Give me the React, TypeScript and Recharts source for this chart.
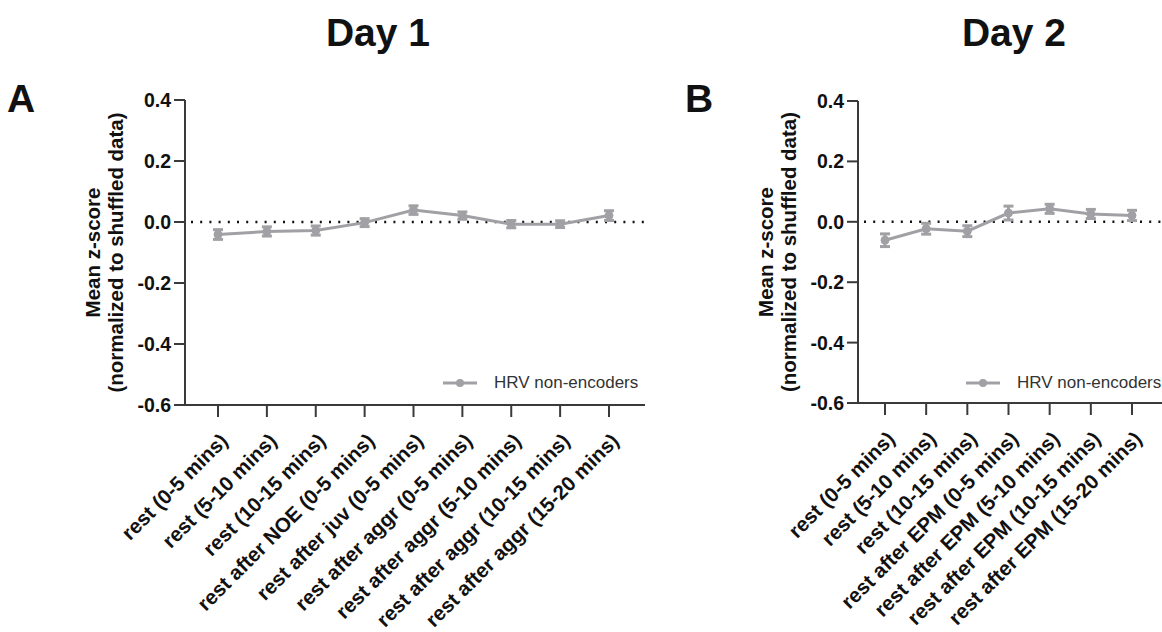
import React from "react"
import { LineChart, Line, XAxis, YAxis, ErrorBar, ReferenceLine } from "recharts"

const FONT = '"Liberation Sans", Arial, Helvetica, sans-serif'
const GRAY = "#a1a1a5"

const day1Labels = [
  "rest (0-5 mins)",
  "rest (5-10 mins)",
  "rest (10-15 mins)",
  "rest after NOE (0-5 mins)",
  "rest after juv (0-5 mins)",
  "rest after aggr (0-5 mins)",
  "rest after aggr (5-10 mins)",
  "rest after aggr (10-15 mins)",
  "rest after aggr (15-20 mins)",
]
const day1Mean = [-0.041, -0.031, -0.028, -0.002, 0.039, 0.021, -0.007, -0.007, 0.021]
const day1Sem = [0.016, 0.015, 0.015, 0.013, 0.014, 0.012, 0.012, 0.011, 0.016]

const day2Labels = [
  "rest (0-5 mins)",
  "rest (5-10 mins)",
  "rest (10-15 mins)",
  "rest after EPM (0-5 mins)",
  "rest after EPM (5-10 mins)",
  "rest after EPM (10-15 mins)",
  "rest after EPM (15-20 mins)",
]
const day2Mean = [-0.061, -0.023, -0.031, 0.029, 0.043, 0.026, 0.021]
const day2Sem = [0.021, 0.018, 0.018, 0.023, 0.015, 0.015, 0.017]

const yTicks = [-0.6, -0.4, -0.2, 0, 0.2, 0.4]
const seriesName = "HRV non-encoders"

const XTick = (props: any) => {
  const { x, y, payload } = props
  return (
    <g transform={`translate(${x + 6},${y + 18}) rotate(-45)`}>
      <text x={0} y={0} dy="0.35em" textAnchor="end" fontSize={20.5} fontWeight="bold" fill="#111" fontFamily={FONT}>
        {payload.value}
      </text>
    </g>
  )
}

const YLabel = (props: any) => {
  const vb = props.viewBox || {}
  const ax = vb.x + vb.width
  const cy = vb.y + vb.height / 2
  const style = { fontSize: 20.5, fontWeight: "bold" as const, fill: "#111", fontFamily: FONT }
  return (
    <g>
      <text transform={`translate(${ax - 93},${cy}) rotate(-90)`} textAnchor="middle" dominantBaseline="central" {...style}>
        Mean z-score
      </text>
      <text transform={`translate(${ax - 70},${cy}) rotate(-90)`} textAnchor="middle" dominantBaseline="central" {...style}>
        (normalized to shuffled data)
      </text>
    </g>
  )
}

const LegendBox = ({ left }: { left: number }) => (
  <div
    style={{
      position: "absolute",
      left,
      top: 373,
      display: "flex",
      alignItems: "center",
      fontFamily: FONT,
      fontSize: 17,
      lineHeight: "20px",
      color: "#333",
      whiteSpace: "nowrap",
    }}
  >
    <svg width={34} height={10} style={{ marginRight: 17 }}>
      <line x1={0} y1={5} x2={34} y2={5} stroke={GRAY} strokeWidth={3} />
      <circle cx={17} cy={5} r={4} fill={GRAY} />
    </svg>
    <span>{seriesName}</span>
  </div>
)

type PanelProps = {
  labels: string[]
  mean: number[]
  sem: number[]
  left: number
  width: number
  margin: { top: number; right: number; bottom: number; left: number }
  pad: { left: number; right: number }
  xAxisHeight: number
}

function Panel({ labels, mean, sem, left, width, margin, pad, xAxisHeight }: PanelProps) {
  const data = labels.map((label, i) => ({ label, mean: mean[i], sem: sem[i] }))
  return (
    <div style={{ position: "absolute", left, top: 0 }}>
      <LineChart width={width} height={632} data={data} margin={margin}>
        <XAxis
          dataKey="label"
          interval={0}
          height={xAxisHeight}
          padding={pad}
          tick={<XTick />}
          tickSize={12}
          tickMargin={2}
          axisLine={{ stroke: "#3a3a3a", strokeWidth: 2 }}
          tickLine={{ stroke: "#3a3a3a", strokeWidth: 2 }}
        />
        <YAxis
          domain={[-0.6, 0.4]}
          ticks={yTicks}
          width={70}
          tickSize={11}
          tickMargin={3}
          tickFormatter={(v: number) => v.toFixed(1)}
          tick={{ fontSize: 19.5, fontWeight: "bold", fill: "#111", fontFamily: FONT }}
          axisLine={{ stroke: "#3a3a3a", strokeWidth: 2 }}
          tickLine={{ stroke: "#3a3a3a", strokeWidth: 2 }}
          label={{ content: (p: any) => <YLabel {...p} /> }}
        />
        <ReferenceLine y={0} stroke="#111" strokeWidth={2.5} strokeDasharray="2 7.2" strokeDashoffset={-6} />
        <Line
          type="linear"
          dataKey="mean"
          name={seriesName}
          stroke={GRAY}
          strokeWidth={3}
          dot={{ r: 4, fill: GRAY, stroke: GRAY, strokeWidth: 1 }}
          isAnimationActive={false}
        >
          <ErrorBar dataKey="sem" width={5} stroke={GRAY} strokeWidth={3} direction="y" />
        </Line>
      </LineChart>
    </div>
  )
}

const big = { position: "absolute" as const, fontFamily: FONT, fontWeight: "bold" as const, fontSize: 39, lineHeight: "39px", color: "#111" }

export default function App() {
  return (
    <div style={{ position: "fixed", left: 0, top: 0, width: 1162, height: 632, background: "#fff", overflow: "hidden" }}>
      <div style={{ ...big, left: 278, width: 200, top: 13, textAlign: "center" }}>Day 1</div>
      <div style={{ ...big, left: 914, width: 200, top: 13, textAlign: "center" }}>Day 2</div>
      <div style={{ ...big, left: 7, top: 79 }}>A</div>
      <div style={{ ...big, left: 685, top: 79 }}>B</div>
      <Panel
        labels={day1Labels}
        mean={day1Mean}
        sem={day1Sem}
        left={0}
        width={700}
        margin={{ top: 100, right: 55, bottom: 0, left: 115 }}
        pad={{ left: 33, right: 36 }}
        xAxisHeight={227}
      />
      <Panel
        labels={day2Labels}
        mean={day2Mean}
        sem={day2Sem}
        left={580}
        width={582}
        margin={{ top: 101, right: 0, bottom: 0, left: 208 }}
        pad={{ left: 27, right: 30 }}
        xAxisHeight={229}
      />
      <LegendBox left={443} />
      <LegendBox left={966} />
    </div>
  )
}
